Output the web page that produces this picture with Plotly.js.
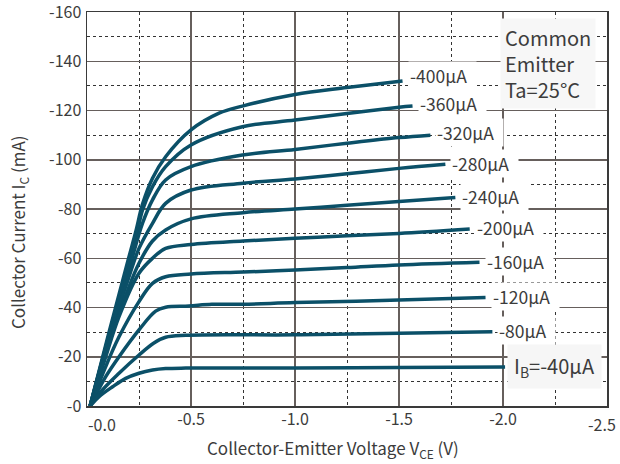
<!DOCTYPE html>
<html>
<head>
<meta charset="utf-8">
<script src="https://cdn.plot.ly/plotly-3.0.1.min.js"></script>
<style>html,body{margin:0;padding:0;background:#fff;}#chart{width:620px;height:464px;}</style>
</head>
<body>
<div id="chart"></div>
<script>
// Base current labels (μA)
const ibLabels = ["-400μA","-360μA","-320μA","-280μA","-240μA","-200μA","-160μA","-120μA","-80μA","I<sub>B</sub>=-40μA"];

// Collector-emitter voltage (V) and collector current (mA) per curve
const vce400 = [-0.015,-0.1,-0.2,-0.235,-0.267,-0.315,-0.378,-0.5,-0.635,-0.747,-1.0,-1.25,-1.517];
const ic400  = [0,-28,-60,-71,-82,-92.5,-101.2,-112.1,-118.9,-121.8,-126.5,-129.3,-132];
const vce360 = [-0.015,-0.1,-0.2,-0.24,-0.267,-0.315,-0.378,-0.5,-0.747,-1.0,-1.25,-1.5,-1.565];
const ic360  = [0,-27,-58,-70,-79.6,-89.1,-97.2,-106,-113.4,-116.1,-118.8,-121.3,-121.8];
const vce320 = [-0.015,-0.1,-0.2,-0.267,-0.315,-0.378,-0.5,-0.747,-1.0,-1.25,-1.5,-1.651];
const ic320  = [0,-26.5,-55,-74.2,-83.7,-91.8,-97.2,-101.9,-104.2,-106.7,-109,-110];
const vce280 = [-0.015,-0.1,-0.2,-0.25,-0.315,-0.378,-0.5,-0.75,-1.0,-1.25,-1.5,-1.723];
const ic280  = [0,-25.5,-52,-64,-74.2,-82.3,-87.7,-90.5,-92.2,-94.3,-96.5,-98.2];
const vce240 = [-0.015,-0.1,-0.2,-0.25,-0.315,-0.378,-0.5,-0.75,-1.0,-1.25,-1.5,-1.771];
const ic240  = [0,-24,-48,-58,-67,-71.5,-76,-78.5,-80,-81.5,-83,-84.7];
const vce200 = [-0.015,-0.09,-0.154,-0.25,-0.315,-0.378,-0.5,-0.75,-1.0,-1.25,-1.5,-1.84];
const ic200  = [0,-20,-36.3,-53.9,-60,-64,-65.6,-67,-68.1,-69.1,-70.1,-71.9];
const vce160 = [-0.015,-0.09,-0.154,-0.25,-0.315,-0.378,-0.5,-0.75,-1.0,-1.25,-1.5,-1.887];
const ic160  = [0,-16,-28.1,-42.4,-49.8,-52.5,-53.6,-54.4,-55.2,-56.2,-57.3,-58.4];
const vce120 = [-0.015,-0.09,-0.154,-0.25,-0.33,-0.378,-0.49,-0.6,-0.75,-1.0,-1.5,-1.916];
const ic120  = [0,-11.9,-20,-30.9,-38.5,-40.1,-40.6,-41.3,-41.3,-42,-43,-44.1];
const vce80  = [-0.015,-0.074,-0.154,-0.25,-0.32,-0.378,-0.475,-1.0,-1.5,-1.949];
const ic80   = [0,-6.5,-13.3,-20.7,-25.5,-27.9,-28.7,-28.9,-29.5,-30.2];
const vce40  = [-0.015,-0.058,-0.123,-0.186,-0.25,-0.315,-0.378,-0.475,-1.0,-1.5,-2.01];
const ic40   = [0,-3.8,-7.8,-11.2,-13.3,-14.6,-15.2,-15.4,-15.4,-15.6,-15.8];

// Axis ticks
const xTickVals = [0,-0.5,-1.0,-1.5,-2.0,-2.5];
const xTickText = ["-0.0","-0.5","-1.0","-1.5","-2.0","-2.5"];
const yTickVals = [0,-20,-40,-60,-80,-100,-120,-140,-160];
const yTickText = ["-0","-20","-40","-60","-80","-100","-120","-140","-160"];

const curves = [
  [vce400,ic400],[vce360,ic360],[vce320,ic320],[vce280,ic280],[vce240,ic240],
  [vce200,ic200],[vce160,ic160],[vce120,ic120],[vce80,ic80],[vce40,ic40]
];

const LINE = '#0b5068';
const FONT = '"Noto Sans CJK JP", "Noto Sans", sans-serif';
const TXT = '#3c3c3c';
const NB = '\u00a0';

const traces = curves.map(c => ({
  x: c[0], y: c[1], type: 'scatter', mode: 'lines',
  line: {color: LINE, width: 3.5, shape: 'spline', smoothing: 1},
  hoverinfo: 'skip', showlegend: false
}));

const annotations = curves.map((c, i) => {
  const last = c[0].length - 1;
  const isIB = i === curves.length - 1;
  return {
    x: c[0][last], y: c[1][last], xref: 'x', yref: 'y',
    text: isIB ? ibLabels[i] : ibLabels[i] + NB + NB, showarrow: false,
    xanchor: 'left', yanchor: 'middle',
    xshift: isIB ? 2 : 5, yshift: i === 0 ? 5 : (i < 3 ? 3 : 1),
    bgcolor: isIB ? '#f6f6f6' : '#ffffff', borderpad: isIB ? 6 : 1,
    font: {family: FONT, size: isIB ? 20 : 17.5, color: TXT}
  };
});

// end tick labels of the voltage axis (offset as in the original)
annotations.push({
  x: xTickVals[0], y: 0, xref: 'x', yref: 'paper', text: xTickText[0], showarrow: false,
  xanchor: 'left', yanchor: 'top', yshift: -4, xshift: -1,
  font: {family: FONT, size: 16, color: TXT}
});
annotations.push({
  x: xTickVals[5], y: 0, xref: 'x', yref: 'paper', text: xTickText[5], showarrow: false,
  xanchor: 'right', yanchor: 'top', yshift: -4, xshift: 11,
  font: {family: FONT, size: 16, color: TXT}
});

// axis titles
annotations.push({
  x: 0.474, y: -0.1066, xref: 'paper', yref: 'paper', xanchor: 'center', yanchor: 'middle',
  text: 'Collector-Emitter Voltage V<sub>CE</sub> (V)', showarrow: false,
  font: {family: FONT, size: 17, color: TXT}
});
annotations.push({
  x: -0.1327, y: 0.4416, xref: 'paper', yref: 'paper', xanchor: 'center', yanchor: 'middle',
  text: 'Collector Current I<sub>C</sub> (mA)', showarrow: false, textangle: -90,
  font: {family: FONT, size: 17, color: TXT}
});

annotations.push({
  x: 0.795, y: 0.985, xref: 'paper', yref: 'paper', xanchor: 'left', yanchor: 'top',
  text: 'Common<br>Emitter<br>Ta=25°C', align: 'left', showarrow: false,
  bgcolor: '#f7f7f7', borderpad: 4,
  font: {family: FONT, size: 20, color: TXT}
});

const layout = {
  width: 620, height: 464,
  margin: {l: 87, r: 13, t: 12, b: 58},
  paper_bgcolor: '#ffffff', plot_bgcolor: '#ffffff',
  font: {family: FONT, color: TXT},
  showlegend: false,
  xaxis: {
    range: [0, -2.5], autorange: false,
    tickvals: xTickVals.slice(1, 5), ticktext: xTickText.slice(1, 5),
    tickfont: {size: 16, color: TXT, family: FONT},
    ticks: '', ticklabelstandoff: -2,
    showgrid: true, gridcolor: '#665f5c', gridwidth: 1.5,
    minor: {dtick: 0.25, showgrid: true, gridcolor: '#333333', griddash: 'dot', gridwidth: 1},
    showline: true, mirror: true, linecolor: '#3a3a3a', linewidth: 1.5,
    zeroline: false
  },
  yaxis: {
    range: [0, -160], autorange: false,
    tickvals: yTickVals, ticktext: yTickText,
    tickfont: {size: 16, color: TXT, family: FONT},
    ticks: '', ticklabelstandoff: 1, ticklabeloverflow: 'allow',
    showgrid: true, gridcolor: '#665f5c', gridwidth: 1.5,
    minor: {dtick: 10, showgrid: true, gridcolor: '#333333', griddash: 'dot', gridwidth: 1},
    showline: true, mirror: true, linecolor: '#3a3a3a', linewidth: 1.5,
    zeroline: false
  },
  annotations: annotations
};

Plotly.newPlot('chart', traces, layout, {staticPlot: true, displayModeBar: false});
</script>
</body>
</html>
